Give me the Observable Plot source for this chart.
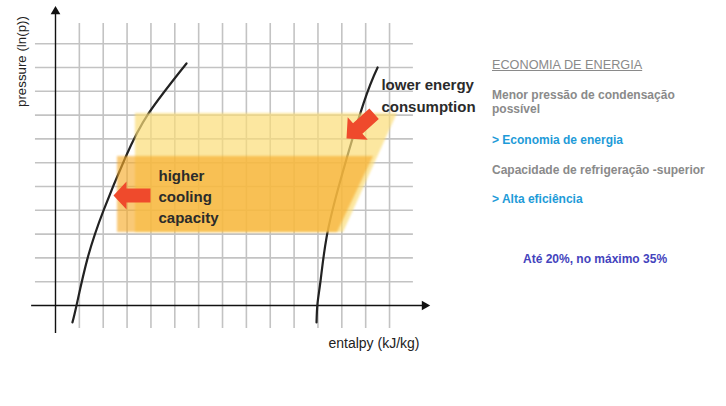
<!DOCTYPE html>
<html>
<head>
<meta charset="utf-8">
<script src="https://cdn.jsdelivr.net/npm/d3@7"></script>
<script src="https://cdn.jsdelivr.net/npm/@observablehq/plot@0.6"></script>
<style>
  html, body { margin: 0; padding: 0; background: #fff; }
  #wrap { position: relative; width: 726px; height: 406px; overflow: hidden; font-family: Arial, "Liberation Sans", sans-serif; }
  #wrap svg { position: absolute; left: 0; top: 0; }
  .side { position: absolute; font-size: 12px; line-height: 14px; white-space: nowrap; }
  .gray { color: #8a8a8a; font-weight: bold; }
  .blue { color: #1e9bd8; font-weight: bold; }
  .head { color: #8a8a8a; text-decoration: underline; font-size: 12.7px; }
  .note { color: #4343bd; font-weight: bold; }
</style>
</head>
<body>
<div id="wrap"></div>
<script>
// ---- data (diagram units: one grid cell = 1) ----
const gridX = [1, 2, 3, 4, 5, 6, 7, 8, 9, 10, 11, 12, 13, 14];
const gridY = [1, 2, 3, 4, 5, 6, 7, 8, 9, 10, 11];

// saturated liquid line (left curve)
const liquidH = [5.49, 3.90, 2.93, 2.01, 1.34, 0.88, 0.71];
const liquidP = [10.17, 8.07, 6.22, 3.99, 1.97, 0.00, -0.71];

// compressor / vapour line (right curve)
const vapourH = [13.50, 12.91, 11.94, 11.36, 11.11, 10.98, 10.94];
const vapourP = [10.00, 8.49, 5.25, 2.86, 1.05, 0.08, -0.71];

// shaded cycle regions: pressure levels with left/right enthalpy
const lightP = [8.07, 3.07];
const lightLeft = [3.35, 3.35];
const lightRight = [14.33, 12.07];

const orangeP = [6.26, 3.07];
const orangeLeft = [2.60, 2.60];
const orangeRight = [13.33, 11.82];

// arrow outlines
const arrowLeftH = [2.431, 2.976, 2.976, 3.982, 3.982, 2.976, 2.976, 2.431];
const arrowLeftP = [4.622, 5.210, 4.916, 4.916, 4.328, 4.328, 4.034, 4.622];
const arrowRightH = [12.196, 12.247, 12.469, 13.156, 13.550, 12.862, 13.085, 12.196];
const arrowRightP = [7.017, 7.908, 7.655, 8.273, 7.836, 7.218, 6.966, 7.017];

const labelCooling = "higher\ncooling\ncapacity";
const labelEnergy = "lower energy\nconsumption";
const labelX = "entalpy (kJ/kg)";
const labelY = "pressure (ln(p))";

// ---- build tables ----
const zip = (xs, ys) => xs.map((x, i) => ({x, y: ys[i]}));
const liquid = zip(liquidH, liquidP);
const vapour = zip(vapourH, vapourP);
const light = lightP.map((p, i) => ({y: p, x1: lightLeft[i], x2: lightRight[i]}));
const orange = orangeP.map((p, i) => ({y: p, x1: orangeLeft[i], x2: orangeRight[i]}));
const arrowL = zip(arrowLeftH, arrowLeftP);
const arrowR = zip(arrowRightH, arrowRightP);

const kx = 23.86, ky = 23.8;
const chart = Plot.plot({
  width: 726,
  height: 406,
  margin: 0,
  style: {background: "transparent", fontFamily: "Arial, 'Liberation Sans', sans-serif"},
  x: {domain: [-55 / kx, 671 / kx], axis: null},
  y: {domain: [-101 / ky, 305 / ky], axis: null},
  marks: [
    Plot.ruleX(gridX, {x: d => d, y1: -0.97, y2: 11.85, stroke: "#c3c3c3", strokeWidth: 1.6}),
    Plot.ruleY(gridY, {y: d => d, x1: -0.84, x2: 15.0, stroke: "#c3c3c3", strokeWidth: 1.6}),
    Plot.ruleY([0], {x1: -1.0, x2: 15.4, stroke: "#111", strokeWidth: 1.4}),
    Plot.ruleX([0], {y1: -1.18, y2: 12.3, stroke: "#111", strokeWidth: 1.4}),
    Plot.dot([0], {x: 0, y: 12.35, symbol: "triangle", r: 3.6, fill: "#111", stroke: "none"}),
    Plot.dot([0], {x: 15.47, y: 0, symbol: "triangle", r: 3.6, rotate: 90, fill: "#111", stroke: "none"}),
    Plot.line(liquid, {x: "x", y: "y", curve: "natural", stroke: "#222", strokeWidth: 2.2}),
    Plot.line(vapour, {x: "x", y: "y", curve: "natural", stroke: "#222", strokeWidth: 2.2}),
    Plot.areaX(light, {y: "y", x1: "x1", x2: "x2", fill: "#fbdd77", fillOpacity: 0.7}),
    Plot.areaX(orange, {y: "y", x1: "x1", x2: "x2", fill: "#f5aa28", fillOpacity: 0.64}),
    Plot.line(arrowL, {x: "x", y: "y", fill: "#ef4a2c", stroke: "none", curve: "linear"}),
    Plot.line(arrowR, {x: "x", y: "y", fill: "#ef4a2c", stroke: "none", curve: "linear"}),
    Plot.text([labelCooling], {x: 4.317, y: 4.62, text: d => d, textAnchor: "start", lineAnchor: "middle", lineHeight: 1.4, fontSize: 15, fontWeight: "bold", fill: "#2b2b2b"}),
    Plot.text([labelEnergy], {x: 13.66, y: 8.9, text: d => d, textAnchor: "start", lineAnchor: "middle", lineHeight: 1.45, fontSize: 15, fontWeight: "bold", fill: "#2b2b2b"}),
    Plot.text([labelX], {x: 11.44, y: -1.6, text: d => d, textAnchor: "start", lineAnchor: "middle", fontSize: 14, fill: "#222"}),
    Plot.text([labelY], {x: -1.42, y: 10.25, text: d => d, rotate: -90, textAnchor: "middle", lineAnchor: "middle", fontSize: 13.3, fill: "#222"})
  ]
});

// soften the edges of the shaded regions like the reference
chart.querySelectorAll('g[aria-label="area"]').forEach(g => { g.style.filter = "blur(1.2px)"; });

const wrap = document.getElementById("wrap");
wrap.appendChild(chart);

const side = [
  {cls: "head", top: 58, left: 492, html: "ECONOMIA DE ENERGIA"},
  {cls: "gray", top: 88, left: 492, html: "Menor pressão de condensação<br>possível"},
  {cls: "blue", top: 133, left: 492, html: "&gt; Economia de energia"},
  {cls: "gray", top: 163, left: 492, html: "Capacidade de refrigeração -superior"},
  {cls: "blue", top: 192, left: 492, html: "&gt; Alta eficiência"},
  {cls: "note", top: 252, left: 523, html: "Até 20%, no máximo 35%"}
];
for (const s of side) {
  const div = document.createElement("div");
  div.className = "side " + s.cls;
  div.style.top = s.top + "px";
  div.style.left = s.left + "px";
  div.innerHTML = s.html;
  wrap.appendChild(div);
}
</script>
</body>
</html>
